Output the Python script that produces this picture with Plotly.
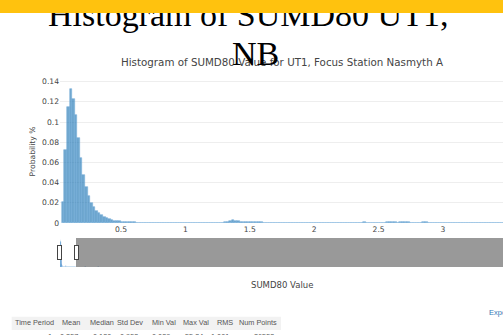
import plotly.graph_objects as go

# ---------------- data ----------------
bin_start = 0.04
bin_width = 0.02
prob = [
    0.021, 0.072, 0.115, 0.133, 0.123, 0.107, 0.084, 0.064, 0.048, 0.036,   # 0.04-0.24
    0.027, 0.020, 0.016, 0.012, 0.0095, 0.0075, 0.006, 0.0048, 0.0038, 0.003,  # 0.24-0.44
    0.0024, 0.0019, 0.0015, 0.0012, 0.0010, 0.0009, 0.0008, 0.0007, 0.0006, 0.0005,  # 0.44-0.64
    0.0005, 0.0004, 0.0005, 0.0004, 0.0004, 0.0003, 0.0004, 0.0003, 0.0003, 0.0002,  # 0.64-0.84
    0.0003, 0.0, 0.0002, 0.0, 0.0001, 0.0002, 0.0, 0.0002, 0.0003, 0.0002,        # 0.84-1.04
    0.0002, 0.0003, 0.0002, 0.0003, 0.0004, 0.0003, 0.0003, 0.0004, 0.0003, 0.0004,  # 1.04-1.24
    0.0004, 0.0005, 0.0005, 0.0006, 0.0010, 0.0018, 0.0025, 0.0022, 0.0016, 0.0014,  # 1.24-1.44
    0.0013, 0.0012, 0.0011, 0.0010, 0.0009, 0.0008, 0.0007, 0.0006, 0.0005, 0.0004,  # 1.44-1.64
    0.0003, 0.0003, 0.0002, 0.0002, 0.0003, 0.0002, 0.0002, 0.0002, 0.0003, 0.0002,  # 1.64-1.84
    0.0002, 0.0002, 0.0002, 0.0003, 0.0002, 0.0002, 0.0002, 0.0003, 0.0002, 0.0002,  # 1.84-2.04
    0.0002, 0.0002, 0.0003, 0.0002, 0.0002, 0.0002, 0.0002, 0.0003, 0.0002, 0.0002,  # 2.04-2.24
    0.0002, 0.0003, 0.0002, 0.0002, 0.0003, 0.0003, 0.0004, 0.0006, 0.0004, 0.0003,  # 2.24-2.44
    0.0003, 0.0003, 0.0004, 0.0003, 0.0003, 0.0005, 0.0007, 0.0008, 0.0007, 0.0006,  # 2.44-2.64
    0.0005, 0.0006, 0.0008, 0.0007, 0.0006, 0.0004, 0.0003, 0.0003, 0.0004, 0.0005,  # 2.64-2.84
    0.0006, 0.0006, 0.0005, 0.0004, 0.0003, 0.0003, 0.0002, 0.0003, 0.0002, 0.0002,  # 2.84-3.04
    0.0002, 0.0003, 0.0002, 0.0002, 0.0002, 0.0003, 0.0002, 0.0002, 0.0002, 0.0002,  # 3.04-3.24
    0.0002, 0.0002, 0.0003, 0.0002, 0.0002, 0.0002, 0.0002, 0.0002, 0.0002, 0.0002,  # 3.24-3.44
    0.0002, 0.0002, 0.0002,                                                          # 3.44-3.50
]
far_x = [3.8, 4.6, 5.5, 6.9, 8.3, 10.2, 13.5, 17.8, 22.4, 31.0, 44.6, 55.3]
far_y = [0.0003, 0.0003, 0.0002, 0.0002, 0.0002, 0.0001, 0.0001, 0.0001, 0.0001, 0.0001, 0.0001, 0.0001]

chart_title = "Histogram of SUMD80 Value for UT1, Focus Station Nasmyth A"
overlay_line1 = "Histogram of SUMD80 UT1,"
overlay_line2 = "NB"
x_title = "SUMD80 Value"
y_title = "Probability %"
table_headers = ["Time Period", "Mean", "Median", "Std Dev", "Min Val", "Max Val", "RMS", "Num Points"]
table_row = ["1", "0.257", "0.130", "0.953", "0.039", "55.34", "1.001", "26553"]

# ---------------- layout helpers ----------------
W, H = 503, 335
ML, MR, MT, MB = 60, 0, 80, 112
PW, PH = W - ML - MR, H - MT - MB
X_RANGE = [0.026, 3.466]


def px(X):
    return (X - ML) / PW


def py(Y):
    return (H - MB - Y) / PH


x_centers = [round(bin_start + bin_width * (i + 0.5), 4) for i in range(len(prob))]

fig = go.Figure()
fig.add_trace(go.Bar(
    x=x_centers + far_x,
    y=prob + far_y,
    width=bin_width,
    marker=dict(color="rgba(31,119,180,0.64)",
                line=dict(color="rgba(120,175,220,0.9)", width=0.6)),
    showlegend=False,
))
# empty helper trace so the tick-label axis (x2) is drawn
fig.add_trace(go.Scatter(x=[], y=[], xaxis="x2", yaxis="y", mode="markers",
                         hoverinfo="skip", showlegend=False))

font_ui = "DejaVu Sans, Verdana, sans-serif"

annotations = []
annotations.append(dict(text=chart_title, x=px(282), y=py(62), xref="paper", yref="paper",
                        showarrow=False, xanchor="center", yanchor="middle",
                        font=dict(family=font_ui, size=10.3, color="#444")))
annotations.append(dict(text=overlay_line1, x=px(247.5), y=py(14), xref="paper", yref="paper",
                        showarrow=False, xanchor="center", yanchor="middle",
                        font=dict(family="Liberation Serif, Times New Roman, serif", size=34, color="#000")))
annotations.append(dict(text=overlay_line2, x=px(255), y=py(53), xref="paper", yref="paper",
                        showarrow=False, xanchor="center", yanchor="middle",
                        font=dict(family="Liberation Serif, Times New Roman, serif", size=34, color="#000")))
annotations.append(dict(text=" ", x=px(251.5), y=py(6.5), xref="paper", yref="paper",
                        showarrow=False, xanchor="center", yanchor="middle",
                        width=530, height=13, borderpad=0, borderwidth=0,
                        bgcolor="#FFC20E", font=dict(size=6)))
annotations.append(dict(text="Export", x=px(487), y=py(312), xref="paper", yref="paper",
                        showarrow=False, xanchor="left", yanchor="middle",
                        font=dict(family="Liberation Sans, Arial, sans-serif", size=7.5, color="#337ab7")))
annotations.append(dict(text=x_title, x=px(282), y=py(284.5), xref="paper", yref="paper",
                        showarrow=False, xanchor="center", yanchor="middle",
                        font=dict(family=font_ui, size=8.5, color="#444")))

header_centers = [34.5, 71.3, 101.6, 130.3, 163.6, 195.5, 224.5, 258]
for h, cx in zip(table_headers, header_centers):
    annotations.append(dict(text=h, x=px(cx), y=py(322.5), xref="paper", yref="paper",
                            showarrow=False, xanchor="center", yanchor="middle",
                            font=dict(family="Liberation Sans, Arial, sans-serif", size=7.3, color="#555")))
row_right = [54, 80, 113, 140, 172, 205, 231, 276]
for v, rx in zip(table_row, row_right):
    annotations.append(dict(text=v, x=px(rx), y=py(336), xref="paper", yref="paper",
                            showarrow=False, xanchor="right", yanchor="middle",
                            font=dict(family="Liberation Sans, Arial, sans-serif", size=7.3, color="#555")))

shapes = [dict(type="rect", xref="paper", yref="paper",
               x0=px(11.7), x1=px(281), y0=py(330), y1=py(316.7),
               fillcolor="#f2f2f2", line=dict(width=0), layer="below")]

fig.update_layout(
    template="none",
    width=W, height=H,
    margin=dict(l=ML, r=MR, t=MT, b=MB, pad=0, autoexpand=False),
    paper_bgcolor="white", plot_bgcolor="white",
    bargap=0,
    font=dict(family=font_ui, size=8, color="#444"),
    annotations=annotations,
    shapes=shapes,
    xaxis=dict(range=X_RANGE, showticklabels=False, showgrid=False, zeroline=False,
               showline=False, ticks="",
               rangeslider=dict(visible=True, range=[0.026, 95.3], thickness=0.2,
                                bgcolor="white", borderwidth=0)),
    xaxis2=dict(range=X_RANGE, overlaying="x", anchor="y", side="bottom",
                tick0=0, dtick=0.5, showgrid=False, zeroline=False, showline=False, ticks="",
                tickfont=dict(size=7.6, color="#444")),
    yaxis=dict(range=[0, 0.1416], dtick=0.02, showgrid=True, gridcolor="#eee", zeroline=False,
               showline=False, ticks="", tickfont=dict(size=7.6, color="#444"),
               title=dict(text=y_title, font=dict(size=7.6, color="#444"))),
)

fig.write_html("out.html")
